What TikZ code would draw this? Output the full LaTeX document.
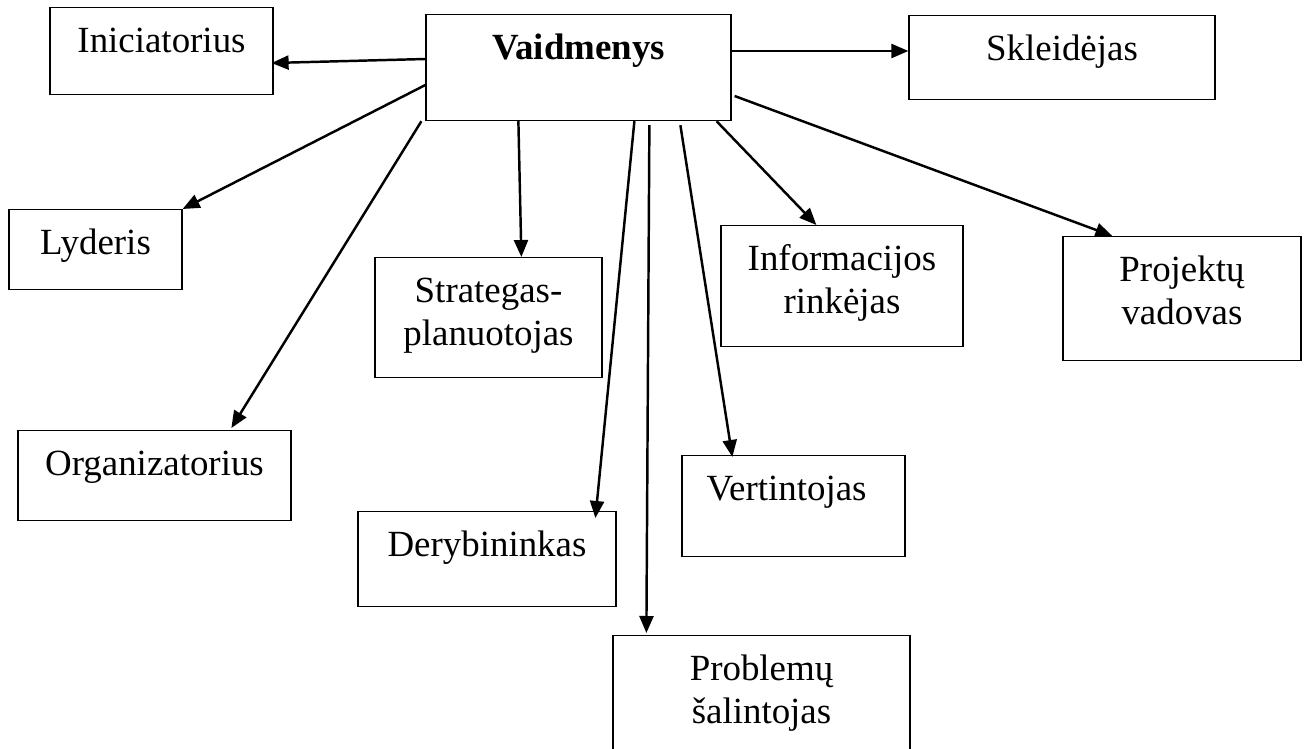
\documentclass[tikz,border=0pt]{standalone}
\usepackage{fontspec}
\setmainfont{Liberation Serif}
\usepackage{xcolor}
\usepackage{tikz}
\usetikzlibrary{arrows.meta, positioning, calc}

\tikzset{
  box/.style={draw,rectangle,black,line width=0.7pt,anchor=north,align=center,inner xsep=0pt,inner ysep=0pt,text height=0.9cm,font=\fontsize{21}{24.5}\selectfont},
  arr/.style={-{Triangle[length=0.34cm,width=0.28cm]},line width=1.4pt,black}
}

\begin{document}
\begin{tikzpicture}%
\useasboundingbox (0,0) rectangle (26.14,-14.98);%
\node[box,text width=6.10cm,text depth=1.22cm] (vaid) at (11.57,-0.28) {\textbf{Vaidmenys}};%
\node[box,text width=4.46cm,text depth=0.84cm] (ini) at (3.23,-0.14) {Iniciatorius};%
\node[box,text width=6.12cm,text depth=0.78cm] (skl) at (21.24,-0.30) {Skleidėjas};%
\node[box,text width=3.46cm,text depth=0.70cm] (lyd) at (1.91,-4.18) {Lyderis};%
\node[box,text width=4.54cm,text depth=1.50cm] (str) at (9.77,-5.14) {Strategas-\\planuotojas};%
\node[box,text width=4.84cm,text depth=1.52cm] (inf) at (16.84,-4.50) {Informacijos\\rinkėjas};%
\node[box,text width=4.76cm,text depth=1.58cm] (prj) at (23.64,-4.72) {Projektų\\vadovas};%
\node[box,text width=5.46cm,text depth=0.90cm] (org) at (3.09,-8.60) {Organizatorius};%
\node[box,text width=5.16cm,text depth=1.00cm] (der) at (9.74,-10.22) {Derybininkas};%
\node[box,text width=4.46cm,text depth=1.12cm] (ver) at (15.87,-9.10) {Vertintojas\hspace*{0.28cm}};%
\node[box,text width=5.94cm,text depth=1.70cm] (prb) at (15.23,-12.70) {Problemų\\šalintojas};%
% rodyklės
\draw[arr] ([yshift=-0.9cm]vaid.north west) -- ([shift={(-0.04,-1.12)}]ini.north east);%
\draw[arr] ([yshift=-0.74cm]vaid.north east) -- ([yshift=-0.72cm]skl.north west);%
\draw[arr] ([yshift=-1.42cm]vaid.north west) -- (lyd.north east);%
\draw[arr] ([xshift=-0.08cm]vaid.south west) -- ([shift={(4.28,0.04)}]org.north west);%
\draw[arr] ([xshift=1.86cm]vaid.south west) -- ([xshift=2.94cm]str.north west);%
\draw[arr] ([xshift=4.18cm]vaid.south west) -- ([shift={(4.76,-0.14)}]der.north west);%
\draw[arr] ([shift={(4.48,-0.08)}]vaid.south west) -- ([shift={(0.68,0.04)}]prb.north west);%
\draw[arr] ([shift={(5.10,-0.08)}]vaid.south west) -- ([shift={(1.02,-0.04)}]ver.north west);%
\draw[arr] ([xshift=-0.30cm]vaid.south east) -- ([xshift=1.92cm]inf.north west);%
\draw[arr] ([shift={(0.06,-1.64)}]vaid.north east) -- ([xshift=1.00cm]prj.north west);%
\end{tikzpicture}
\end{document}
